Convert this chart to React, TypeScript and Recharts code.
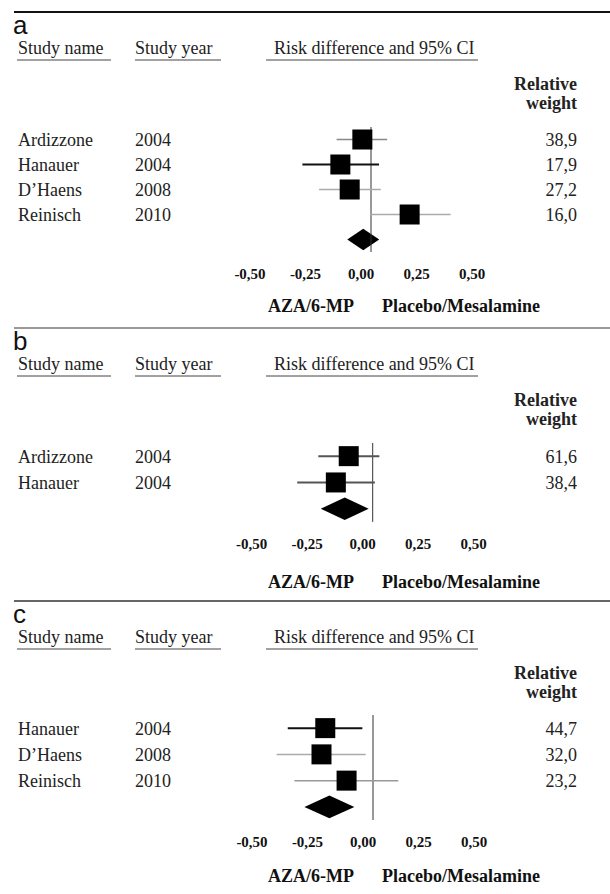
import React from 'react';
import { ComposedChart, Scatter, XAxis, YAxis, ReferenceLine, ReferenceArea } from 'recharts';

// panel a
const studiesA = ['Ardizzone', 'Hanauer', 'D\u2019Haens', 'Reinisch'];
const yearsA = ['2004', '2004', '2008', '2010'];
const weightsA = ['38,9', '17,9', '27,2', '16,0'];
const estA = [-0.039, -0.138, -0.096, 0.174];
const lowA = [-0.155, -0.309, -0.234, -0.005];
const highA = [0.073, 0.036, 0.044, 0.359];
const pooledA = [-0.107, 0.037];

// panel b
const studiesB = ['Ardizzone', 'Hanauer'];
const yearsB = ['2004', '2004'];
const weightsB = ['61,6', '38,4'];
const estB = [-0.108, -0.166];
const lowB = [-0.245, -0.34];
const highB = [0.03, 0.01];
const pooledB = [-0.234, -0.018];

// panel c
const studiesC = ['Hanauer', 'D\u2019Haens', 'Reinisch'];
const yearsC = ['2004', '2008', '2010'];
const weightsC = ['44,7', '32,0', '23,2'];
const estC = [-0.215, -0.232, -0.119];
const lowC = [-0.384, -0.434, -0.354];
const highC = [-0.048, -0.033, 0.114];
const pooledC = [-0.309, -0.084];

const xTicks = [-0.5, -0.25, 0, 0.25, 0.5];

const SERIF = '"Liberation Serif", "Times New Roman", serif';
const SANS = '"Liberation Sans", Arial, sans-serif';

const HALF = 111; // px for 0.5 on the risk difference scale

interface PanelProps {
  letter: string;
  ruleY: number;
  ruleColor: string;
  plotTop: number;
  rowH: number;
  zero: number;
  titleY: number;
  studies: string[];
  years: string[];
  weights: string[];
  est: number[];
  low: number[];
  high: number[];
  pooled: number[];
  ciColors: string[];
  ciWidths: number[];
}

const Header: React.FC<{ p: PanelProps }> = ({ p }) => {
  const r = p.ruleY;
  return (
    <g>
      <line x1={14} x2={610} y1={r} y2={r} stroke={p.ruleColor} strokeWidth={2} />
      <text x={13} y={r + 22} fontFamily={SANS} fontSize={26} fill="#111">{p.letter}</text>
      <g fontFamily={SERIF} fontSize={18} fill="#222">
        <text x={18} y={r + 42}>Study name</text>
        <text x={135} y={r + 42}>Study year</text>
        <text x={274} y={r + 42}>Risk difference and 95% CI</text>
      </g>
      <g stroke="#444" strokeWidth={1}>
        <line x1={17} x2={111} y1={r + 48} y2={r + 48} />
        <line x1={135} x2={221} y1={r + 48} y2={r + 48} />
        <line x1={266} x2={478} y1={r + 48} y2={r + 48} />
      </g>
      <g fontFamily={SERIF} fontSize={18} fontWeight="bold" fill="#222" textAnchor="end">
        <text x={577} y={r + 78}>Relative</text>
        <text x={577} y={r + 97}>weight</text>
      </g>
      <g fontFamily={SERIF} fontSize={18} fontWeight="bold" fill="#111">
        <text x={268} y={p.titleY + 6}>AZA/6-MP</text>
        <text x={382} y={p.titleY + 6}>Placebo/Mesalamine</text>
      </g>
    </g>
  );
};

const Panel: React.FC<{ p: PanelProps }> = ({ p }) => {
  const n = p.studies.length;
  const rows = p.est.map((v, i) => ({ row: i, est: v }));
  const plotH = p.rowH * (n + 1);
  const rowTicks = p.studies.map((_, i) => i);

  const RowTick = (props: any) => {
    const i = props.payload.value;
    const y = props.y + 6.5;
    return (
      <g fontFamily={SERIF} fontSize={18} fill="#222">
        <text x={18} y={y}>{p.studies[i]}</text>
        <text x={135} y={y}>{p.years[i]}</text>
        <text x={577} y={y} textAnchor="end">{p.weights[i]}</text>
      </g>
    );
  };

  return (
    <div style={{ position: 'absolute', left: 0, top: p.plotTop, width: 610 }}>
      <ComposedChart
        width={610}
        height={plotH + 40}
        margin={{ top: 0, right: 610 - p.zero - HALF, bottom: 0, left: 0 }}
      >
        <XAxis
          type="number"
          dataKey="est"
          domain={[-0.5, 0.5]}
          ticks={xTicks}
          interval={0}
          axisLine={false}
          tickLine={false}
          tickMargin={10}
          height={40}
          dx={-10}
          tick={{ fontFamily: SERIF, fontSize: 15, fontWeight: 'bold', fill: '#111' }}
          tickFormatter={(v: number) => v.toFixed(2).replace('.', ',')}
        />
        <YAxis
          type="number"
          dataKey="row"
          domain={[-0.5, n + 0.5]}
          reversed
          ticks={rowTicks}
          interval={0}
          axisLine={false}
          tickLine={false}
          width={p.zero - HALF}
          tick={RowTick}
        />
        <ReferenceLine x={0} stroke="#333" strokeWidth={1} />
        {p.est.map((_, i) => (
          <ReferenceLine
            key={i}
            segment={[{ x: p.low[i], y: i }, { x: p.high[i], y: i }]}
            stroke={p.ciColors[i]}
            strokeWidth={p.ciWidths[i]}
          />
        ))}
        <ReferenceArea
          x1={p.pooled[0]}
          x2={p.pooled[1]}
          y1={n - 0.43}
          y2={n + 0.43}
          shape={(s: any) => {
            const cx = s.x + s.width / 2;
            const cy = s.y + s.height / 2;
            return (
              <polygon
                points={`${s.x},${cy} ${cx},${s.y} ${s.x + s.width},${cy} ${cx},${s.y + s.height}`}
                fill="#000"
              />
            );
          }}
        />
        <Scatter
          data={rows}
          isAnimationActive={false}
          fill="#000"
          shape={(s: any) => <rect x={s.cx - 10} y={s.cy - 10} width={20} height={20} fill="#000" />}
        />
      </ComposedChart>
    </div>
  );
};

const panels: PanelProps[] = [
  {
    letter: 'a', ruleY: 12, ruleColor: '#111', plotTop: 127, rowH: 25, zero: 371, titleY: 306,
    studies: studiesA, years: yearsA, weights: weightsA, est: estA, low: lowA, high: highA, pooled: pooledA,
    ciColors: ['#888', '#111', '#aaa', '#aaa'], ciWidths: [1.5, 2, 1.5, 1.5],
  },
  {
    letter: 'b', ruleY: 328, ruleColor: '#999', plotTop: 443, rowH: 26.3, zero: 372.7, titleY: 581.7,
    studies: studiesB, years: yearsB, weights: weightsB, est: estB, low: lowB, high: highB, pooled: pooledB,
    ciColors: ['#555', '#555'], ciWidths: [2, 2],
  },
  {
    letter: 'c', ruleY: 601, ruleColor: '#666', plotTop: 715, rowH: 26.25, zero: 373, titleY: 876,
    studies: studiesC, years: yearsC, weights: weightsC, est: estC, low: lowC, high: highC, pooled: pooledC,
    ciColors: ['#111', '#aaa', '#999'], ciWidths: [2, 1.5, 1.5],
  },
];

export default function App() {
  return (
    <div style={{ position: 'absolute', left: 0, top: 0, width: 610, height: 894, background: '#fff' }}>
      {panels.map((p) => (
        <Panel key={p.letter} p={p} />
      ))}
      <svg
        width={610}
        height={894}
        style={{ position: 'absolute', left: 0, top: 0, pointerEvents: 'none' }}
      >
        {panels.map((p) => (
          <Header key={p.letter} p={p} />
        ))}
      </svg>
    </div>
  );
}
